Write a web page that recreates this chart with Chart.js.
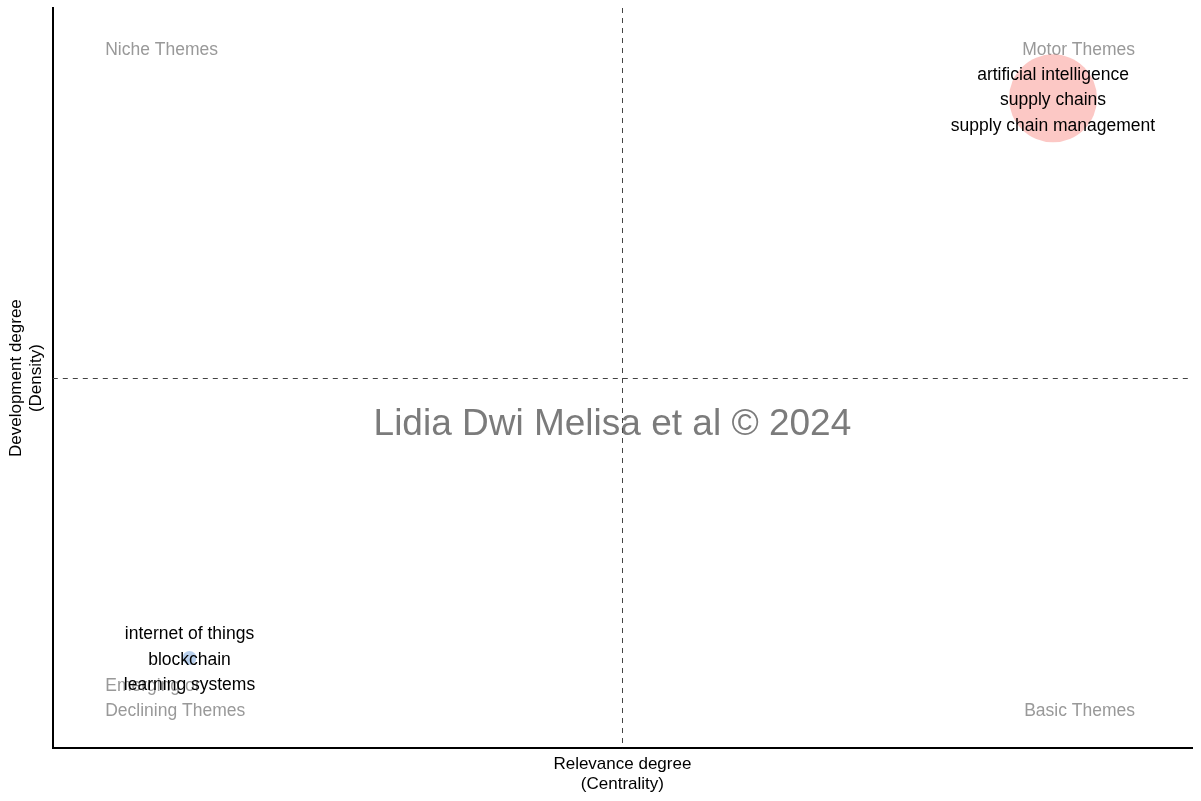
<!DOCTYPE html>
<html>
<head>
<meta charset="utf-8">
<script src="https://cdn.jsdelivr.net/npm/chart.js@4.4.1/dist/chart.umd.min.js"></script>
<style>
  body { margin: 0; background: #fff; }
  #wrap { width: 1201px; height: 801px; position: relative; }
</style>
</head>
<body>
<div id="wrap"><canvas id="mapChart"></canvas></div>
<script>
// clusters of the thematic map
const clusterLabels = [
  ['artificial intelligence', 'supply chains', 'supply chain management'],
  ['internet of things', 'blockchain', 'learning systems']
];
const centrality = [0.878, 0.12];
const density = [0.878, 0.122];
const bubbleRadius = [44, 7];
const bubbleColors = ['rgba(248,118,109,0.4)', 'rgba(100,150,215,0.45)'];

// quadrant names
const quadrantNames = ['Niche Themes', 'Motor Themes', 'Emerging or\nDeclining Themes', 'Basic Themes'];
const watermark = 'Lidia Dwi Melisa et al \u00A9 2024';

const FONT = 'Arial, "Liberation Sans", sans-serif';

// dashed lines, quadrant names, watermark and cluster labels
const mapDecor = {
  id: 'mapDecor',
  beforeDatasetsDraw(chart) {
    const ctx = chart.ctx;
    const x = chart.scales.x, y = chart.scales.y;
    const a = chart.chartArea;
    ctx.save();
    // watermark
    ctx.fillStyle = 'rgba(100,100,100,0.85)';
    ctx.font = '37px ' + FONT;
    ctx.textAlign = 'center';
    ctx.textBaseline = 'middle';
    ctx.fillText(watermark, (a.left + a.right) / 2 - 10, y.getPixelForValue(0.5) + 47);

    // quadrant names
    ctx.fillStyle = '#999999';
    ctx.font = '17.5px ' + FONT;
    const xl = x.getPixelForValue(0.046), xr = x.getPixelForValue(0.95);
    const yt = y.getPixelForValue(0.945) + 1, yb = y.getPixelForValue(0.051) + 1;
    ctx.textAlign = 'left';
    ctx.fillText(quadrantNames[0], xl, yt);
    const em = quadrantNames[2].split('\n');
    ctx.fillText(em[0], xl, yb - 25);
    ctx.fillText(em[1], xl, yb);
    ctx.textAlign = 'right';
    ctx.fillText(quadrantNames[1], xr, yt);
    ctx.fillText(quadrantNames[3], xr, yb);

    // dashed cross
    ctx.strokeStyle = '#444';
    ctx.lineWidth = 1;
    ctx.setLineDash([5, 5]);
    const cx = Math.round(x.getPixelForValue(0.5)) + 0.5;
    const cy = Math.round(y.getPixelForValue(0.5)) + 0.5;
    ctx.beginPath();
    ctx.moveTo(cx, a.top); ctx.lineTo(cx, a.bottom);
    ctx.moveTo(a.left, cy); ctx.lineTo(a.right, cy);
    ctx.stroke();
    ctx.restore();
  },
  afterDatasetsDraw(chart) {
    const ctx = chart.ctx;
    const x = chart.scales.x, y = chart.scales.y;
    ctx.save();
    ctx.fillStyle = '#000';
    ctx.font = '17.5px ' + FONT;
    ctx.textAlign = 'center';
    ctx.textBaseline = 'middle';
    clusterLabels.forEach((words, i) => {
      const px = x.getPixelForValue(centrality[i]);
      const py = y.getPixelForValue(density[i]) + 2;
      words.forEach((w, j) => {
        ctx.fillText(w, px, py + (j - 1) * 25.5);
      });
    });
    ctx.restore();
  }
};

new Chart(document.getElementById('mapChart'), {
  type: 'bubble',
  data: {
    datasets: [{
      data: centrality.map((c, i) => ({ x: c, y: density[i], r: bubbleRadius[i] })),
      backgroundColor: bubbleColors,
      borderWidth: 0
    }]
  },
  options: {
    responsive: true,
    maintainAspectRatio: false,
    animation: false,
    layout: { autoPadding: false, padding: { left: 0, top: 8, right: 9, bottom: 0 } },
    plugins: { legend: { display: false }, tooltip: { enabled: false } },
    scales: {
      x: {
        min: 0, max: 1,
        grid: { display: false, drawTicks: false },
        border: { display: true, color: '#000', width: 2 },
        ticks: { display: false },
        title: {
          display: true,
          text: ['Relevance degree', '(Centrality)'],
          color: '#000',
          font: { size: 17, family: FONT, lineHeight: 1.2 },
          padding: { top: 6, bottom: 6 }
        }
      },
      y: {
        min: 0, max: 1,
        grid: { display: false, drawTicks: false },
        border: { display: true, color: '#000', width: 2 },
        ticks: { display: false },
        title: {
          display: true,
          text: ['Development degree', '(Density)'],
          color: '#000',
          font: { size: 17, family: FONT, lineHeight: 1.2 },
          padding: { top: 6, bottom: 6 }
        }
      }
    }
  },
  plugins: [mapDecor]
});
</script>
</body>
</html>
